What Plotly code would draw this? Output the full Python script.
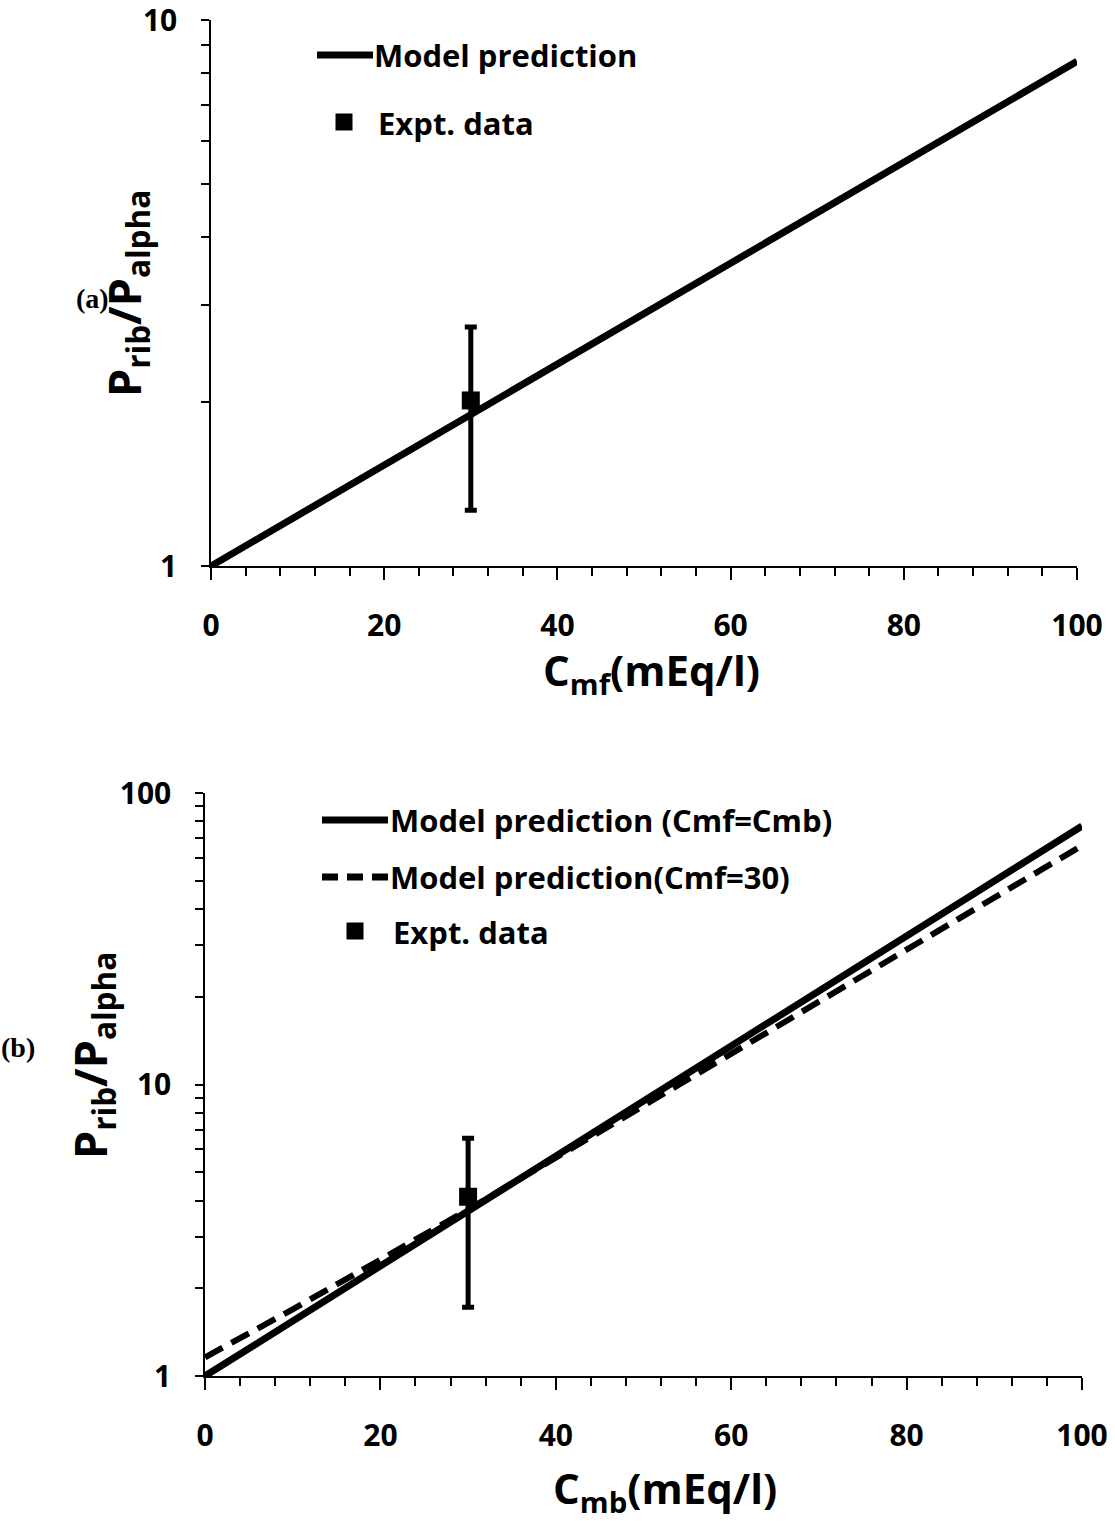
import plotly.graph_objects as go

# ---------------- data ----------------
x_a = [0, 10, 20, 30, 40, 50, 60, 70, 80, 90, 100]
model_a = [1.0, 1.237, 1.531, 1.894, 2.343, 2.899, 3.586, 4.436, 5.489, 6.79, 8.4]
expt_a_x = [30]
expt_a_y = [2.01]
expt_a_hi = [2.74]
expt_a_lo = [1.265]

x_b = [0, 10, 20, 30, 40, 50, 60, 70, 80, 90, 100]
model_b_same = [1.0, 1.544, 2.384, 3.681, 5.684, 8.776, 13.55, 20.92, 32.3, 49.87, 77.0]
model_b_30 = [1.159, 1.693, 2.508, 3.724, 5.606, 8.459, 12.76, 19.26, 29.06, 43.85, 66.0]
expt_b_x = [30]
expt_b_y = [4.12]
expt_b_hi = [6.54]
expt_b_lo = [1.72]

x_ticks = [0, 20, 40, 60, 80, 100]
ya_ticks = [1, 10]
yb_ticks = [1, 10, 100]

W, H = 1115, 1521
FONT = "'Open Sans', Lato, sans-serif"


def px(x):
    return x / W


def py(y):
    return 1 - y / H


def b(t):
    return "<b>" + t + "</b>"


fig = go.Figure()

# panel (a)
fig.add_trace(go.Scatter(x=x_a, y=model_a, mode="lines",
                         line=dict(color="black", width=7),
                         xaxis="x", yaxis="y", showlegend=False,
                         name="Model prediction"))
fig.add_trace(go.Scatter(x=expt_a_x, y=expt_a_y, mode="markers",
                         marker=dict(symbol="square", size=18, color="black"),
                         error_y=dict(type="data", symmetric=False,
                                      array=[h - v for h, v in zip(expt_a_hi, expt_a_y)],
                                      arrayminus=[v - l for l, v in zip(expt_a_lo, expt_a_y)],
                                      color="black", thickness=5, width=6),
                         xaxis="x", yaxis="y", showlegend=False, name="Expt. data"))

# panel (b)
fig.add_trace(go.Scatter(x=x_b, y=model_b_same, mode="lines",
                         line=dict(color="black", width=7),
                         xaxis="x2", yaxis="y2", showlegend=False,
                         name="Model prediction (Cmf=Cmb)"))
fig.add_trace(go.Scatter(x=x_b, y=model_b_30, mode="lines",
                         line=dict(color="black", width=6, dash="20px,10px"),
                         xaxis="x2", yaxis="y2", showlegend=False,
                         name="Model prediction(Cmf=30)"))
fig.add_trace(go.Scatter(x=expt_b_x, y=expt_b_y, mode="markers",
                         marker=dict(symbol="square", size=18, color="black"),
                         error_y=dict(type="data", symmetric=False,
                                      array=[h - v for h, v in zip(expt_b_hi, expt_b_y)],
                                      arrayminus=[v - l for l, v in zip(expt_b_lo, expt_b_y)],
                                      color="black", thickness=5, width=6),
                         xaxis="x2", yaxis="y2", showlegend=False, name="Expt. data"))

tickfont = dict(family=FONT, size=30, color="black")

xcommon = dict(range=[0, 100], tickvals=x_ticks, ticktext=[b(str(v)) for v in x_ticks],
               ticks="outside", ticklen=12, tickwidth=1.5, tickcolor="black",
               showline=True, linewidth=1.5, linecolor="black", showgrid=False,
               zeroline=False, tickfont=tickfont, automargin=False,
               ticklabelstandoff=20, ticklabeloverflow="allow",
               minor=dict(dtick=4, tick0=0, ticks="outside", ticklen=8,
                          tickwidth=1.5, tickcolor="black", showgrid=False))

ycommon = dict(type="log", ticks="outside", ticklen=8, tickwidth=1.5, tickcolor="black",
               showline=True, linewidth=1.5, linecolor="black", showgrid=False,
               zeroline=False, tickfont=tickfont, automargin=False,
               ticklabelstandoff=18, ticklabeloverflow="allow")

fig.update_layout(
    width=W, height=H,
    margin=dict(l=0, r=0, t=0, b=0),
    paper_bgcolor="white", plot_bgcolor="white",
    xaxis=dict(domain=[px(211), px(1077)], anchor="y", **xcommon),
    yaxis=dict(domain=[py(566), py(20)], anchor="x", range=[0, 1],
               tickvals=ya_ticks, ticktext=[b(str(v)) for v in ya_ticks],
               minor=dict(tickvals=[2, 3, 4, 5, 6, 7, 8, 9], ticks="outside", ticklen=8,
                          tickwidth=1.5, tickcolor="black", showgrid=False),
               **ycommon),
    xaxis2=dict(domain=[px(205), px(1082)], anchor="y2", **xcommon),
    yaxis2=dict(domain=[py(1376), py(793)], anchor="x2", range=[0, 2],
                tickvals=yb_ticks, ticktext=[b(str(v)) for v in yb_ticks],
                minor=dict(tickvals=[2, 3, 4, 5, 6, 7, 8, 9, 20, 30, 40, 50, 60, 70, 80, 90],
                           ticks="outside", ticklen=8, tickwidth=1.5, tickcolor="black",
                           showgrid=False),
                **ycommon),
)

shapes = []
annotations = []

legfont = dict(family=FONT, size=31, color="black")


def leg_line(x0, x1, y, dash=None):
    shapes.append(dict(type="line", xref="paper", yref="paper",
                       x0=px(x0), x1=px(x1), y0=py(y), y1=py(y),
                       line=dict(color="black", width=7, dash=dash if dash else "solid")))


def leg_square(cx, cy, s=17):
    shapes.append(dict(type="rect", xref="paper", yref="paper",
                       x0=px(cx - s / 2), x1=px(cx + s / 2),
                       y0=py(cy + s / 2), y1=py(cy - s / 2),
                       fillcolor="black", line=dict(width=0)))


def leg_text(x, y, text):
    annotations.append(dict(text=b(text), xref="paper", yref="paper",
                            x=px(x), y=py(y), xanchor="left", yanchor="middle",
                            showarrow=False, font=legfont))


# legend (a)
leg_line(317, 373, 55)
leg_text(372, 55, "Model prediction")
leg_square(344, 122)
leg_text(376, 123, "Expt. data")

# legend (b)
leg_line(322, 388, 820)
leg_text(388, 820, "Model prediction (Cmf=Cmb)")
leg_line(322, 388, 877, dash="16px,9px")
leg_text(388, 877, "Model prediction(Cmf=30)")
leg_square(355, 931)
leg_text(391, 932, "Expt. data")

xtitlefont = dict(family=FONT, size=42, color="black")
ytitlefont = dict(family=FONT, size=45, color="black")

# axis titles
annotations.append(dict(text=b("C<sub>mf</sub>(mEq/l)"), xref="paper", yref="paper",
                        x=px(651), y=py(672), xanchor="center", yanchor="middle",
                        showarrow=False, font=xtitlefont))
annotations.append(dict(text=b("C<sub>mb</sub>(mEq/l)"), xref="paper", yref="paper",
                        x=px(665), y=py(1490), xanchor="center", yanchor="middle",
                        showarrow=False, font=xtitlefont))
annotations.append(dict(text=b("P<sub>rib</sub>/P<sub>alpha</sub>"), xref="paper", yref="paper",
                        x=px(126), y=py(294), xanchor="center", yanchor="middle",
                        textangle=-90, showarrow=False, font=ytitlefont))
annotations.append(dict(text=b("P<sub>rib</sub>/P<sub>alpha</sub>"), xref="paper", yref="paper",
                        x=px(92), y=py(1056), xanchor="center", yanchor="middle",
                        textangle=-90, showarrow=False, font=ytitlefont))

# panel labels
labfont = dict(family="'Liberation Serif', 'DejaVu Serif', serif", size=28, color="black")
annotations.append(dict(text=b("(a)"), xref="paper", yref="paper", x=px(92), y=py(298),
                        xanchor="center", yanchor="middle", showarrow=False, font=labfont))
annotations.append(dict(text=b("(b)"), xref="paper", yref="paper", x=px(18), y=py(1047),
                        xanchor="center", yanchor="middle", showarrow=False, font=labfont))

fig.update_layout(shapes=shapes, annotations=annotations)

fig.write_html("out.html", config={"displayModeBar": False},
               post_script="document.body.style.margin='0';document.body.style.padding='0';")
